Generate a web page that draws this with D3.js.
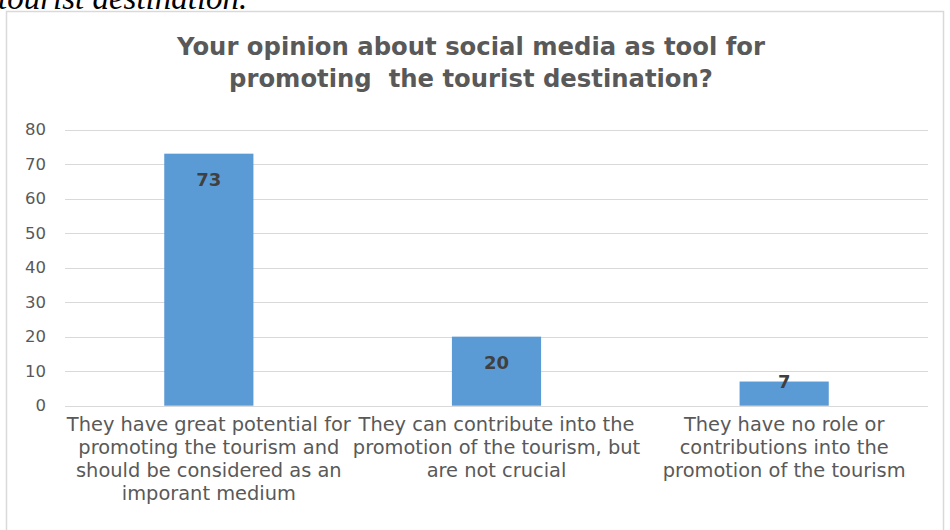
<!DOCTYPE html>
<html>
<head>
<meta charset="utf-8">
<script src="https://cdn.jsdelivr.net/npm/d3@7"></script>
<style>
  html, body { margin: 0; padding: 0; background: #ffffff; }
  svg { display: block; }
</style>
</head>
<body>
<svg id="chart" width="950" height="530"></svg>
<script>
// Survey answers (categories, each wrapped into display lines)
const categories = [
  "They have great potential for promoting the tourism and should be considered as an imporant medium",
  "They can contribute into the promotion of the tourism, but are not crucial",
  "They have no role or contributions into the promotion of the tourism"
];
const categoryLines = [
  ["They have great potential for", "promoting the tourism and", "should be considered as an", "imporant medium"],
  ["They can contribute into the", "promotion of the tourism, but", "are not crucial"],
  ["They have no role or", "contributions into the", "promotion of the tourism"]
];
const values = [73, 20, 7];
const yTicks = [0, 10, 20, 30, 40, 50, 60, 70, 80];
const titleLines = [
  "Your opinion about social media as tool for",
  "promoting  the tourist destination?"
];
const captionText = "tourist destination.";

const svg = d3.select("#chart");

// Caption from the surrounding document, clipped at the top edge
svg.append("text")
  .attr("x", -2).attr("y", 9)
  .attr("font-family", "'Liberation Serif', 'Times New Roman', serif")
  .attr("font-style", "italic")
  .attr("font-size", 33)
  .attr("fill", "#000")
  .text(captionText);

// Chart frame
svg.append("rect")
  .attr("x", 6.5).attr("y", 11.5)
  .attr("width", 937).attr("height", 530)
  .attr("fill", "#fff")
  .attr("stroke", "#d9d9d9").attr("stroke-width", 1.5);

// Title
svg.append("g").selectAll("text")
  .data(titleLines)
  .join("text")
  .attr("x", 471)
  .attr("y", (d, i) => 55 + i * 32)
  .attr("text-anchor", "middle")
  .attr("font-family", "'DejaVu Sans', sans-serif")
  .attr("font-weight", "bold")
  .attr("font-size", 24.3)
  .attr("fill", "#595959")
  .style("white-space", "pre")
  .text(d => d);

const margin = { left: 65, right: 928, top: 129.5, bottom: 405.7 };

const x = d3.scaleBand()
  .domain(categories)
  .range([margin.left, margin.right])
  .paddingInner(0.69)
  .paddingOuter(0.345);

const y = d3.scaleLinear()
  .domain([0, 80])
  .range([margin.bottom, margin.top]);

// Gridlines
svg.append("g")
  .selectAll("line")
  .data(yTicks)
  .join("line")
  .attr("x1", margin.left).attr("x2", margin.right)
  .attr("y1", d => Math.round(y(d)) + 0.5)
  .attr("y2", d => Math.round(y(d)) + 0.5)
  .attr("stroke", "#d9d9d9")
  .attr("stroke-width", 1);

// Y axis labels
const yAxis = d3.axisLeft(y).tickValues(yTicks).tickSize(0).tickPadding(0);
const gy = svg.append("g")
  .attr("transform", `translate(${margin.left - 19},0)`)
  .call(yAxis);
gy.select(".domain").remove();
gy.selectAll("text")
  .attr("font-family", "'DejaVu Sans', sans-serif")
  .attr("font-size", 16.5)
  .attr("fill", "#595959");

// Bars
svg.append("g")
  .selectAll("rect")
  .data(values)
  .join("rect")
  .attr("x", (d, i) => x(categories[i]))
  .attr("y", d => y(d))
  .attr("width", x.bandwidth())
  .attr("height", d => y(0) - y(d))
  .attr("fill", "#5b9bd5");

// Value labels (inside end; short bars get the label on the bar top)
svg.append("g")
  .selectAll("text")
  .data(values)
  .join("text")
  .attr("x", (d, i) => x(categories[i]) + x.bandwidth() / 2)
  .attr("y", d => (y(0) - y(d) > 50 ? y(d) + 26 : y(d)))
  .attr("dy", "0.36em")
  .attr("text-anchor", "middle")
  .attr("font-family", "'DejaVu Sans', sans-serif")
  .attr("font-weight", "bold")
  .attr("font-size", 18)
  .attr("fill", "#404040")
  .text(d => d);

// Category labels
const gx = svg.append("g");
categoryLines.forEach((lines, i) => {
  const cx = x(categories[i]) + x.bandwidth() / 2;
  gx.append("text")
    .attr("text-anchor", "middle")
    .attr("font-family", "'DejaVu Sans', sans-serif")
    .attr("font-size", 19.4)
    .attr("fill", "#595959")
    .selectAll("tspan")
    .data(lines)
    .join("tspan")
    .attr("x", cx)
    .attr("y", (d, j) => 431 + j * 23)
    .text(d => d);
});
</script>
</body>
</html>
